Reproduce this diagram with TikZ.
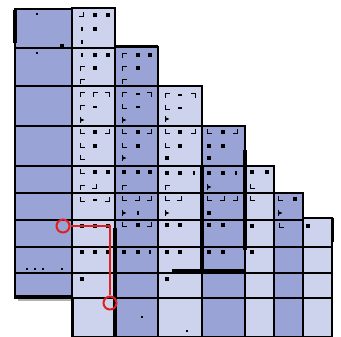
\documentclass[tikz,border=0pt]{standalone}
\definecolor{dk}{HTML}{99A3D6}
\definecolor{lt}{HTML}{CDD3EC}
\definecolor{rd}{HTML}{E0201C}
\begin{document}
\begin{tikzpicture}[x=1pt,y=-1pt,
  cellbox/.style={draw=black,line width=1.8pt},
  heavy/.style={draw=black,line width=3.5pt},
  ring/.style={circle,draw=rd,line width=2pt,minimum size=13pt,inner sep=0pt},
  redline/.style={draw=rd,line width=2pt},
  mS/.pic={\fill (-2.1,-2.1) rectangle (2.1,2.1);},
  mdot/.pic={\fill (-1.2,-1.2) rectangle (1.2,1.2);},
  mL/.pic={\draw[line width=1.8pt] (-1.5,-2.8) -- (-1.5,1.5) -- (2.8,1.5);},
  mJ/.pic={\draw[line width=1.8pt] (1.5,-2.8) -- (1.5,1.5) -- (-2.8,1.5);},
  mR/.pic={\draw[line width=1.8pt] (-1.5,2.8) -- (-1.5,-1.5) -- (2.8,-1.5);},
  mT/.pic={\draw[line width=1.8pt] (-2.8,-1.5) -- (1.5,-1.5) -- (1.5,2.8);},
  mD/.pic={\fill (-2.3,-1.1) rectangle (2.3,1.1);},
  mV/.pic={\fill (-1,-2.4) rectangle (1,2.4);},
  mP/.pic={\draw[line width=1.6pt] (-1.5,-3.2) -- (-1.5,3.2); \fill (-1.5,-1.8) -- (2.4,0) -- (-1.5,1.8) -- cycle;}]
\useasboundingbox (0,0) rectangle (341,337);
% cells
\foreach \ya/\yb in {9/48,48/86,86/126,126/166,166/193,193/220,220/247,247/273,273/298}
  {\path[cellbox,fill=dk] (15,\ya) rectangle (72,\yb);}
\foreach \ya/\yb in {8/48,48/86,86/126,126/166,166/193,193/220,220/247,247/273,273/298,298/337}
  {\path[cellbox,fill=lt] (72,\ya) rectangle (115,\yb);}
\foreach \ya/\yb in {47/86,86/126,126/166,166/193,193/220,220/247,247/273,273/298,298/337}
  {\path[cellbox,fill=dk] (115,\ya) rectangle (158,\yb);}
\foreach \ya/\yb in {86/126,126/166,166/193,193/220,220/247,247/273,273/298,298/337}
  {\path[cellbox,fill=lt] (158,\ya) rectangle (202,\yb);}
\foreach \ya/\yb in {126/166,166/193,193/220,220/247,247/273,273/298,298/337}
  {\path[cellbox,fill=dk] (202,\ya) rectangle (245,\yb);}
\foreach \ya/\yb in {166/193,193/220,220/247,247/273,273/298,298/337}
  {\path[cellbox,fill=lt] (245,\ya) rectangle (274,\yb);}
\foreach \ya/\yb in {193/220,220/247,247/273,273/298,298/337}
  {\path[cellbox,fill=dk] (274,\ya) rectangle (303,\yb);}
\foreach \ya/\yb in {218/247,247/273,273/298,298/337}
  {\path[cellbox,fill=lt] (303,\ya) rectangle (332,\yb);}
% marks
\foreach \t/\x/\y in {
 J/82/15,S/95/15,S/108/15,V/82/29,S/95/29,V/82/42,
 V/82/55,S/95/55,S/108/55,R/82/68,S/95/68,R/82/81,
 R/124/55,S/138/55,S/150/55,R/124/68,S/138/68,R/124/81,
 R/82/94,R/95/94,T/108/94,R/82/107,D/95/107,P/82/120,
 R/124/94,D/138/94,T/150/94,L/124/107,D/138/107,P/124/120,
 R/167/95,D/180/95,T/194/95,L/167/108,D/180/108,P/167/119,
 L/82/132,S/95/132,J/108/132,L/82/146,S/95/146,L/82/158,
 L/124/132,S/138/132,J/150/132,L/124/146,S/138/146,P/124/158,
 L/167/132,S/180/132,J/194/132,L/167/146,S/180/146,S/167/158,
 L/209/132,S/223/132,J/236/132,S/209/146,S/223/146,S/209/158,
 L/82/172,S/95/172,S/108/172,R/82/187,J/95/187,
 S/124/172,S/138/172,S/150/172,R/124/187,
 S/167/173,S/180/173,V/194/173,R/167/187,
 S/209/173,S/223/173,V/236/173,P/209/187,
 S/252/172,S/267/172,L/252/187,
 L/82/200,D/95/200,J/108/200,
 L/124/199,J/138/199,J/150/199,P/124/213,V/138/213,
 L/167/199,J/180/199,P/167/213,
 L/209/199,J/223/199,J/236/199,S/209/213,
 L/252/199,
 L/280/199,S/295/199,P/280/213,
 S/82/226,S/95/226,S/108/226,
 L/124/225,S/138/225,J/150/225,
 S/167/225,S/180/225,S/209/225,S/223/225,
 S/252/226,L/281/226,S/308/226,
 S/82/252,S/95/252,S/108/252,
 S/124/252,S/138/252,V/150/252,
 S/167/252,S/180/252,S/209/252,S/223/252,S/252/252,
 S/82/279,S/167/279,
 dot/37/14,dot/37/53,dot/142/317,dot/187/331,S/62/46,
 dot/27/269,dot/35/269,dot/43/269,dot/62/269}
 {\pic at (\x,\y) {m\t};}
% heavy lines
\draw[heavy,line width=4.5pt] (15,10) -- (15,43);
\draw[black,line width=3pt] (115,47) -- (158,47);
\draw[black,line width=2.4pt,dash pattern=on 5pt off 3pt] (78,48) -- (115,48);
\draw[gray!60,line width=2pt] (18,300) -- (74,300);
\draw[heavy] (15,297) -- (72,297);
\draw[heavy,line width=3pt] (72,297) -- (72,337);
\draw[heavy] (115,228) -- (115,337);
\draw[heavy,line width=2.6pt] (158,233) -- (158,337);
\draw[heavy] (202,166) -- (202,270);
\draw[heavy] (245,150) -- (245,250);
\draw[heavy] (172,271) -- (245,271);
\draw[heavy,line width=3pt] (332,218) -- (332,242);
% red path
\node[ring] (c1) at (63,226) {};
\node[ring] (c2) at (110,303) {};
\draw[redline] (c1.east) -- (c1.east -| c2) -- (c2.north);
\end{tikzpicture}
\end{document}
